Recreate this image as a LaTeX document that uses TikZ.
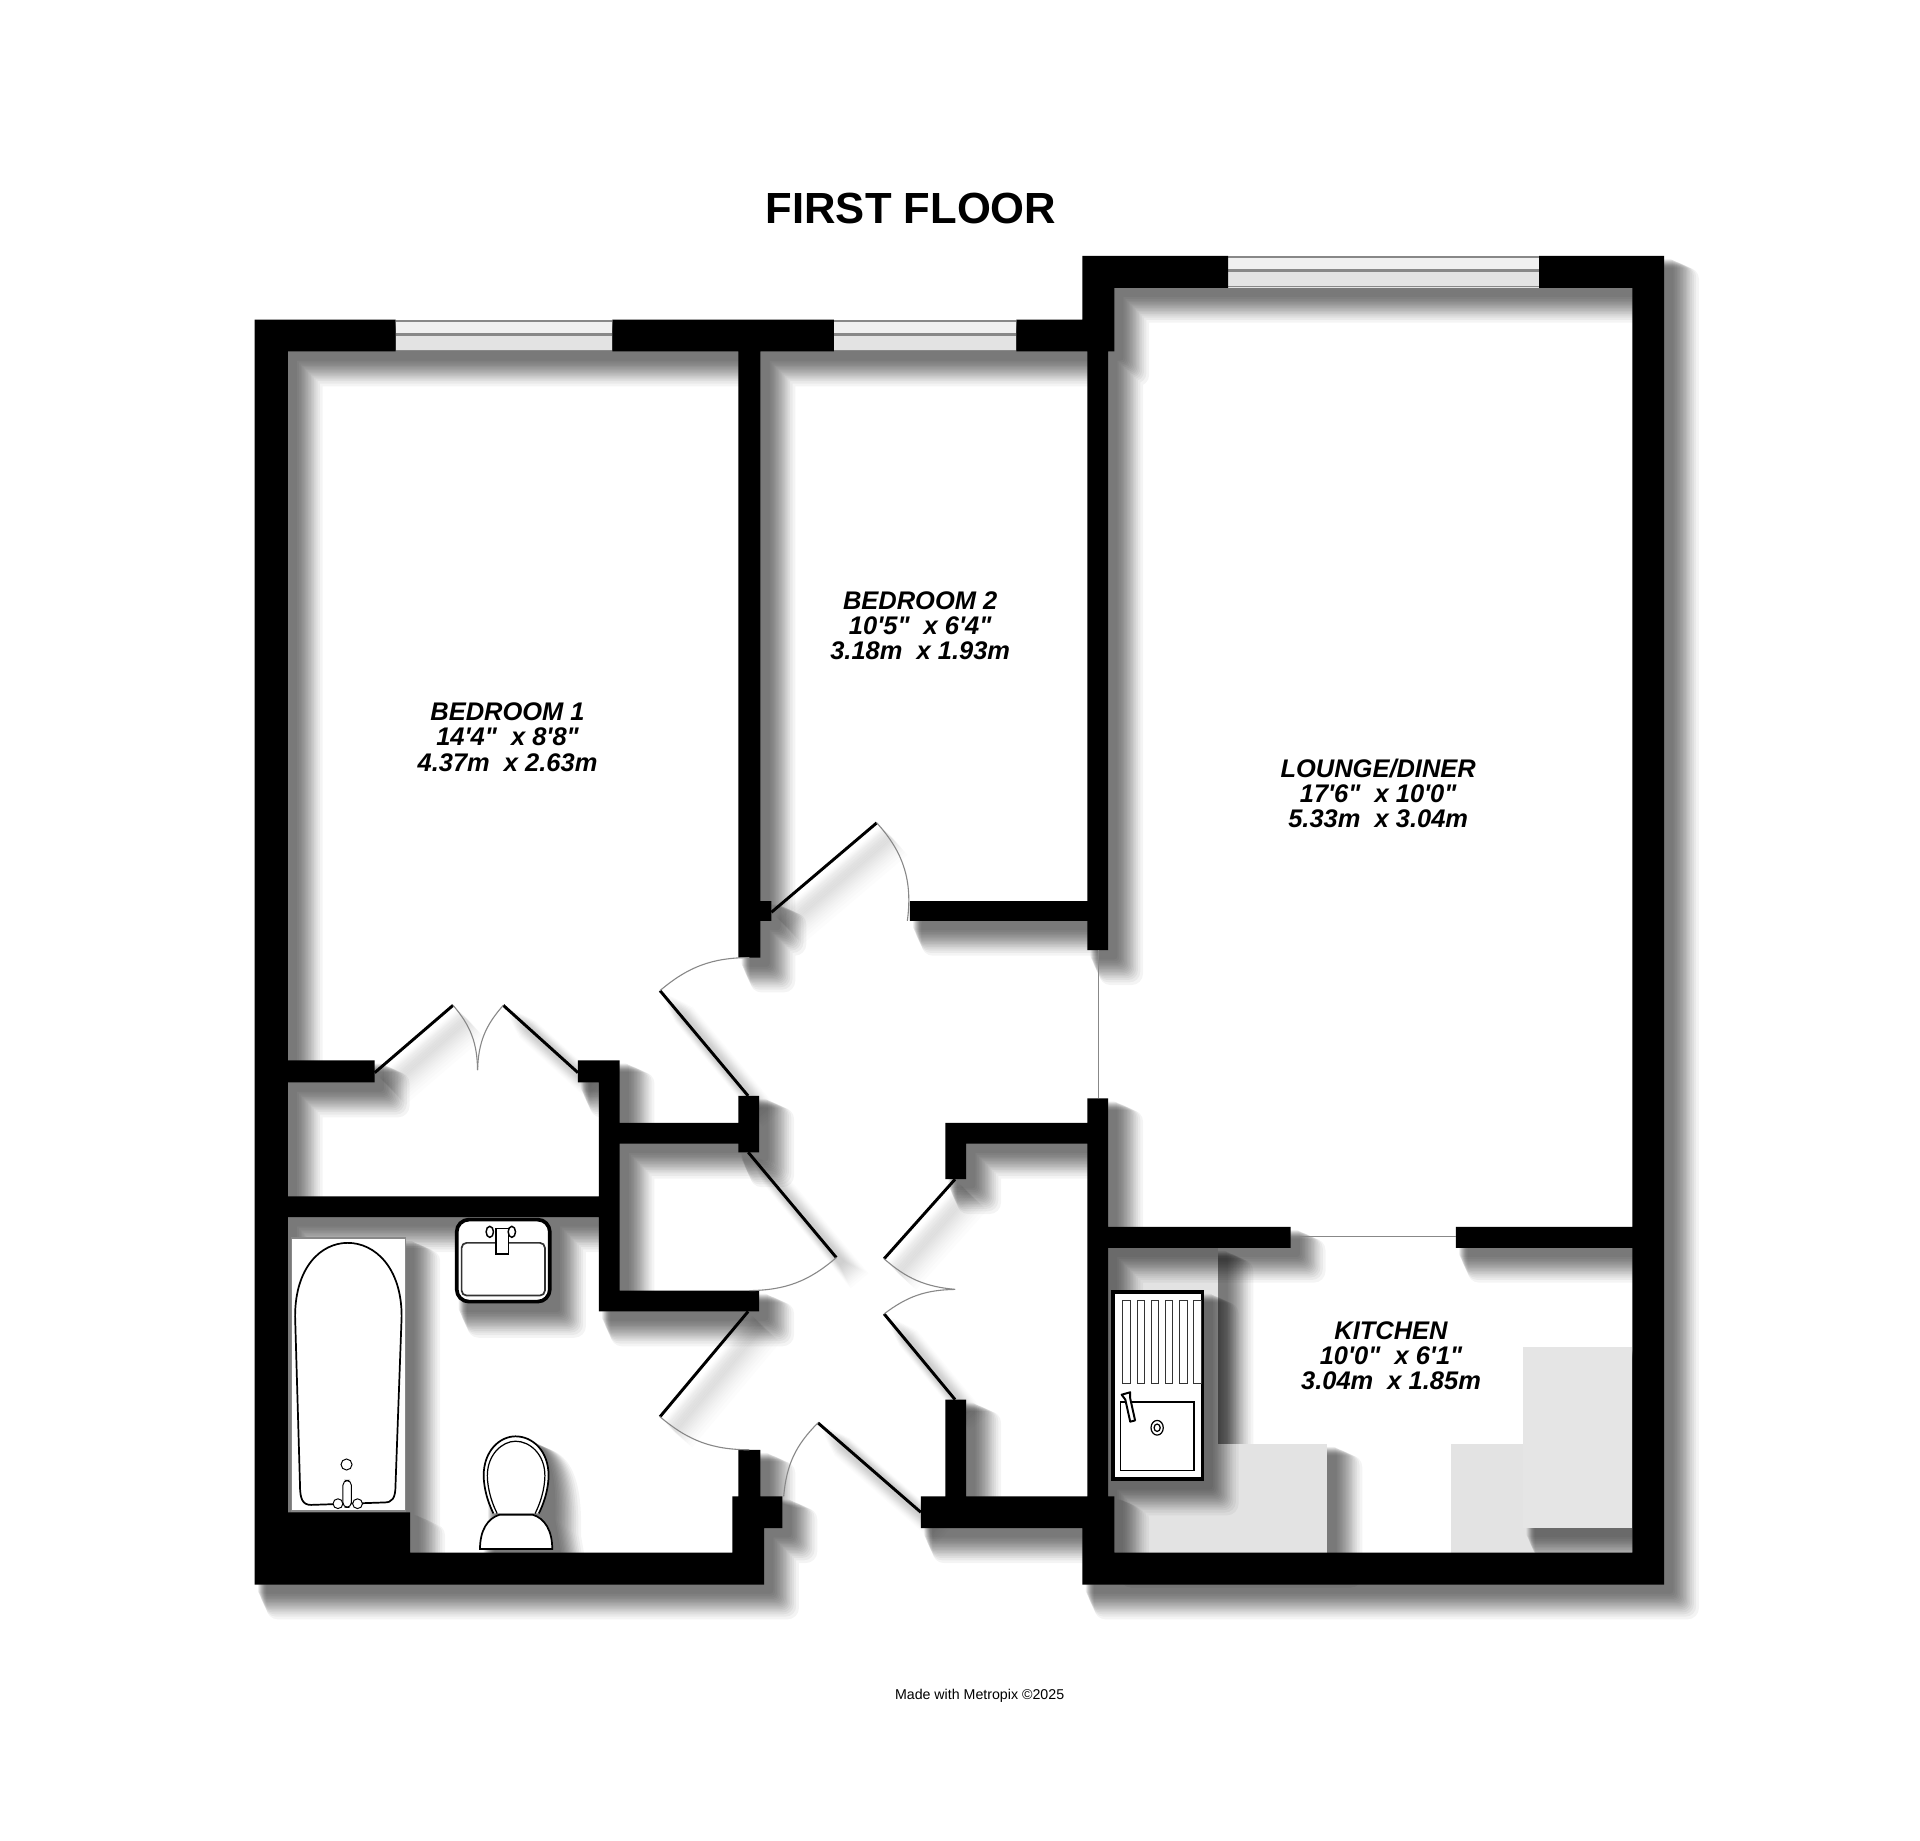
\documentclass[tikz,border=0pt]{standalone}
\usepackage{fontspec}
\setmainfont{Liberation Sans}
\newfontfamily\labelfont{Liberation Sans}
\definecolor{counter}{HTML}{E3E3E3}
\definecolor{thingray}{HTML}{888888}
\def\softshadow#1#2{\foreach \o in {5,6,7,7.8,8.6,9.4,10.2,11,11.8,12.6,13.4,14.2,15.2,16.2,17.5,19}{%
  \begin{scope}[transparency group,opacity=#1,shift={(\o,\o)}]
    \path[fill=black,draw=black,line join=round,line width=\o*.5pt] #2;
  \end{scope}}}
\def\wallshape{(208,261) rectangle (235,1294)
 (208,261) rectangle (910,287)
 (603,287) rectangle (621,782)
 (884,209) rectangle (910,287)
 (888,287) rectangle (905,776)
 (884,209) rectangle (1359,235)
 (1333,209) rectangle (1359,1294)
 (208,1268) rectangle (624,1294)
 (884,1268) rectangle (1359,1294)
 (208,1235) rectangle (335,1294)
 (603,1184) rectangle (621,1268)
 (598,1222) rectangle (624,1268)
 (621,1222) rectangle (639,1248)
 (603,736) rectangle (630,752)
 (743,736) rectangle (888,752)
 (888,897) rectangle (905,1268)
 (884,1222) rectangle (910,1294)
 (772,917) rectangle (888,934)
 (772,917) rectangle (789,963)
 (772,1143) rectangle (789,1222)
 (752,1222) rectangle (888,1248)
 (905,1002) rectangle (1054,1019)
 (1189,1002) rectangle (1333,1019)
 (235,866) rectangle (306,884)
 (472,866) rectangle (506,884)
 (489,866) rectangle (506,1071)
 (235,977) rectangle (489,994)
 (506,917) rectangle (603,934)
 (603,895) rectangle (620,941)
 (489,1054) rectangle (620,1071)}
\def\blackwalls{(208,261) rectangle (323,287)
 (500,261) rectangle (681,287)
 (830,261) rectangle (910,287)
 (884,209) rectangle (1003,235)
 (1257,209) rectangle (1359,235)
 (208,261) rectangle (235,1294)
 (603,287) rectangle (621,782)
 (884,209) rectangle (910,287)
 (888,287) rectangle (905,776)
 (1333,209) rectangle (1359,1294)
 (208,1268) rectangle (624,1294)
 (884,1268) rectangle (1359,1294)
 (208,1235) rectangle (335,1294)
 (603,1184) rectangle (621,1268)
 (598,1222) rectangle (624,1268)
 (621,1222) rectangle (639,1248)
 (603,736) rectangle (630,752)
 (743,736) rectangle (888,752)
 (888,897) rectangle (905,1268)
 (884,1222) rectangle (910,1294)
 (772,917) rectangle (888,934)
 (772,917) rectangle (789,963)
 (772,1143) rectangle (789,1222)
 (752,1222) rectangle (888,1248)
 (905,1002) rectangle (1054,1019)
 (1189,1002) rectangle (1333,1019)
 (235,866) rectangle (306,884)
 (472,866) rectangle (506,884)
 (489,866) rectangle (506,1071)
 (235,977) rectangle (489,994)
 (506,917) rectangle (603,934)
 (603,895) rectangle (620,941)
 (489,1054) rectangle (620,1071)}
\def\fixtureshape{(238,1011) rectangle (331,1234)
 (372,995) rectangle (450,1064)
 (908,1054) rectangle (983,1209)
 (396,1236) .. controls (395,1200) and (400,1173) .. (421,1173) .. controls (442,1173) and (447,1200) .. (446,1236) -- (451,1265) -- (392,1265) -- cycle}
\def\panelshape{(630,745) -- (716,672)
 (611,895) -- (539,809)
 (611,941) -- (683,1027)
 (780,963) -- (722,1028)
 (780,1143) -- (722,1073)
 (611,1071) -- (539,1157)
 (752,1235) -- (668,1162)
 (306,876) -- (370,821)
 (472,876) -- (411,821)}
\tikzset{
  swingarc/.style={draw=thingray,line width=.45pt},
  panel/.style={draw=black,line width=1.2pt},
  roomlabel/.style={font=\labelfont\bfseries\itshape\fontsize{10.4}{10.3}\selectfont,align=center,inner sep=0pt}
}
\begin{document}
\begin{tikzpicture}[x=.5pt,y=-.5pt]
\useasboundingbox (0,0) rectangle (1568,1503);
\fill[white] (0,0) rectangle (1568,1503);
% kitchen units, low level
\softshadow{.042}{(905,1019) rectangle (995,1268) (905,1179) rectangle (1084,1268)}
\fill[counter] (905,1019) rectangle (995,1268);
\fill[counter] (905,1179) rectangle (1084,1268);
\fill[counter] (1185,1179) rectangle (1333,1268);
% door panel shadows
\softshadow{.011}{\panelshape}
% wall and fixture shadows
\softshadow{.042}{\wallshape \fixtureshape}
% tall unit
\begin{scope}
  \clip (1185,1019) rectangle (1333,1268);
  \softshadow{.042}{(1244,1100) rectangle (1333,1248)}
\end{scope}
\fill[counter!92!white] (1244,1100) rectangle (1333,1248);
% windows
\foreach \xa/\xb/\ya/\yb in {323/500/261/287,681/830/261/287,1003/1257/209/235}{
  \fill[white!94!black] (\xa,\ya) rectangle (\xb,\yb);
  \fill[counter] (\xa,{(\ya+\yb)/2}) rectangle (\xb,\yb);
  \draw[thingray,line width=1pt] (\xa,\ya+1) -- (\xb,\ya+1);
  \draw[thingray,line width=1pt] (\xa,{(\ya+\yb)/2-1}) -- (\xb,{(\ya+\yb)/2-1});
  \draw[thingray,line width=.4pt] (\xa,\yb-1) -- (\xb,\yb-1);
}
% walls
\fill[black] \blackwalls;
% openings
\draw[thingray,line width=.45pt] (897,776) -- (897,897);
\draw[thingray,line width=.45pt] (1054,1010) -- (1189,1010);
% door panels and swings
\path[panel] \panelshape;
\draw[swingarc] (716,672) to[bend left=25] (741,752);
\draw[swingarc] (539,809) to[bend left=20] (612,782);
\draw[swingarc] (683,1027) to[bend left=20] (612,1054);
\draw[swingarc] (722,1028) to[bend right=18] (780,1053);
\draw[swingarc] (722,1073) to[bend left=18] (780,1053);
\draw[swingarc] (539,1157) to[bend right=20] (612,1184);
\draw[swingarc] (668,1162) to[bend right=20] (640,1222);
\draw[swingarc] (370,821) to[bend left=20] (390,874);
\draw[swingarc] (411,821) to[bend right=20] (390,874);
% bath
\draw[thingray,fill=white,line width=.6pt] (238,1011) rectangle (331,1234);
\draw[black,fill=white,line width=.7pt] (241,1075) .. controls (241,1035) and (262,1015) .. (284,1015) .. controls (306,1015) and (328,1035) .. (328,1075) -- (323,1213) .. controls (323,1224) and (320,1227) .. (314,1227) -- (254,1229) .. controls (247,1229) and (245,1224) .. (245,1213) -- cycle;
\draw[black,fill=white,line width=.4pt] (283,1196) circle (4.5);
\draw[black,fill=white,line width=.4pt,rounded corners=2pt] (280,1209) rectangle (287,1231);
\draw[black,fill=white,line width=.4pt] (276,1228) circle (4) (292,1228) circle (4);
% basin
\draw[black,fill=white,line width=1.5pt,rounded corners=5pt] (373,996) rectangle (449,1063);
\draw[black!80,fill=white,line width=.7pt,rounded corners=2pt] (377,1015) rectangle (445,1058);
\draw[black,fill=white,line width=.5pt] (405,1003) rectangle (415,1024);
\draw[black,line width=.6pt] (400,1006) ellipse (3 and 4.5) (418,1006) ellipse (3 and 4.5);
% toilet
\draw[black,fill=white,line width=.7pt] (403,1236) .. controls (396,1222) and (395,1210) .. (395,1205) .. controls (395,1185) and (408,1173) .. (421,1173) .. controls (435,1173) and (448,1185) .. (448,1205) .. controls (448,1210) and (447,1222) .. (440,1236);
\draw[black,line width=.5pt] (406,1236) .. controls (399,1222) and (398,1210) .. (398,1205) .. controls (398,1188) and (410,1177) .. (421,1177) .. controls (433,1177) and (445,1188) .. (445,1205) .. controls (445,1210) and (444,1222) .. (437,1236);
\draw[black,fill=white,line width=.7pt] (392,1265) .. controls (392,1250) and (398,1240) .. (408,1237) -- (435,1237) .. controls (445,1240) and (451,1250) .. (451,1265) -- cycle;
% sink
\draw[black,fill=white,line width=1.6pt] (909,1055) rectangle (982,1208);
\foreach \k in {0,...,5}{
  \draw[black!80,line width=.4pt] ({917+\k*11.6},1062) rectangle ({923+\k*11.6},1130);
}
\draw[black,line width=.6pt] (915,1145) rectangle (975,1201);
\draw[black,fill=white,line width=.8pt,line join=round] (916,1139) -- (923,1137) -- (923,1142) -- (927,1160) -- (923,1161) -- (919,1143) -- cycle;
\draw[black,line width=.5pt] (945,1166) ellipse (5 and 6) (945,1166) ellipse (2.5 and 3);
% texts
\node[font=\labelfont\bfseries\fontsize{17.8}{20}\selectfont,inner sep=0pt] (title) at (744,170) {FIRST FLOOR};
\node[roomlabel] (bed1) at (414.5,602) {BEDROOM 1\\14'4"~ x 8'8"\\4.37m~ x 2.63m};
\node[roomlabel] (bed2) at (751.5,511) {BEDROOM 2\\10'5"~ x 6'4"\\3.18m~ x 1.93m};
\node[roomlabel] (lounge) at (1125.5,648) {LOUNGE/DINER\\17'6"~ x 10'0"\\5.33m~ x 3.04m};
\node[roomlabel] (kitchen) at (1136,1107) {KITCHEN\\10'0"~ x 6'1"\\3.04m~ x 1.85m};
\node[font=\labelfont\fontsize{5.8}{7}\selectfont,inner sep=0pt] (credit) at (800,1385) {Made with Metropix ©2025};
\end{tikzpicture}
\end{document}
